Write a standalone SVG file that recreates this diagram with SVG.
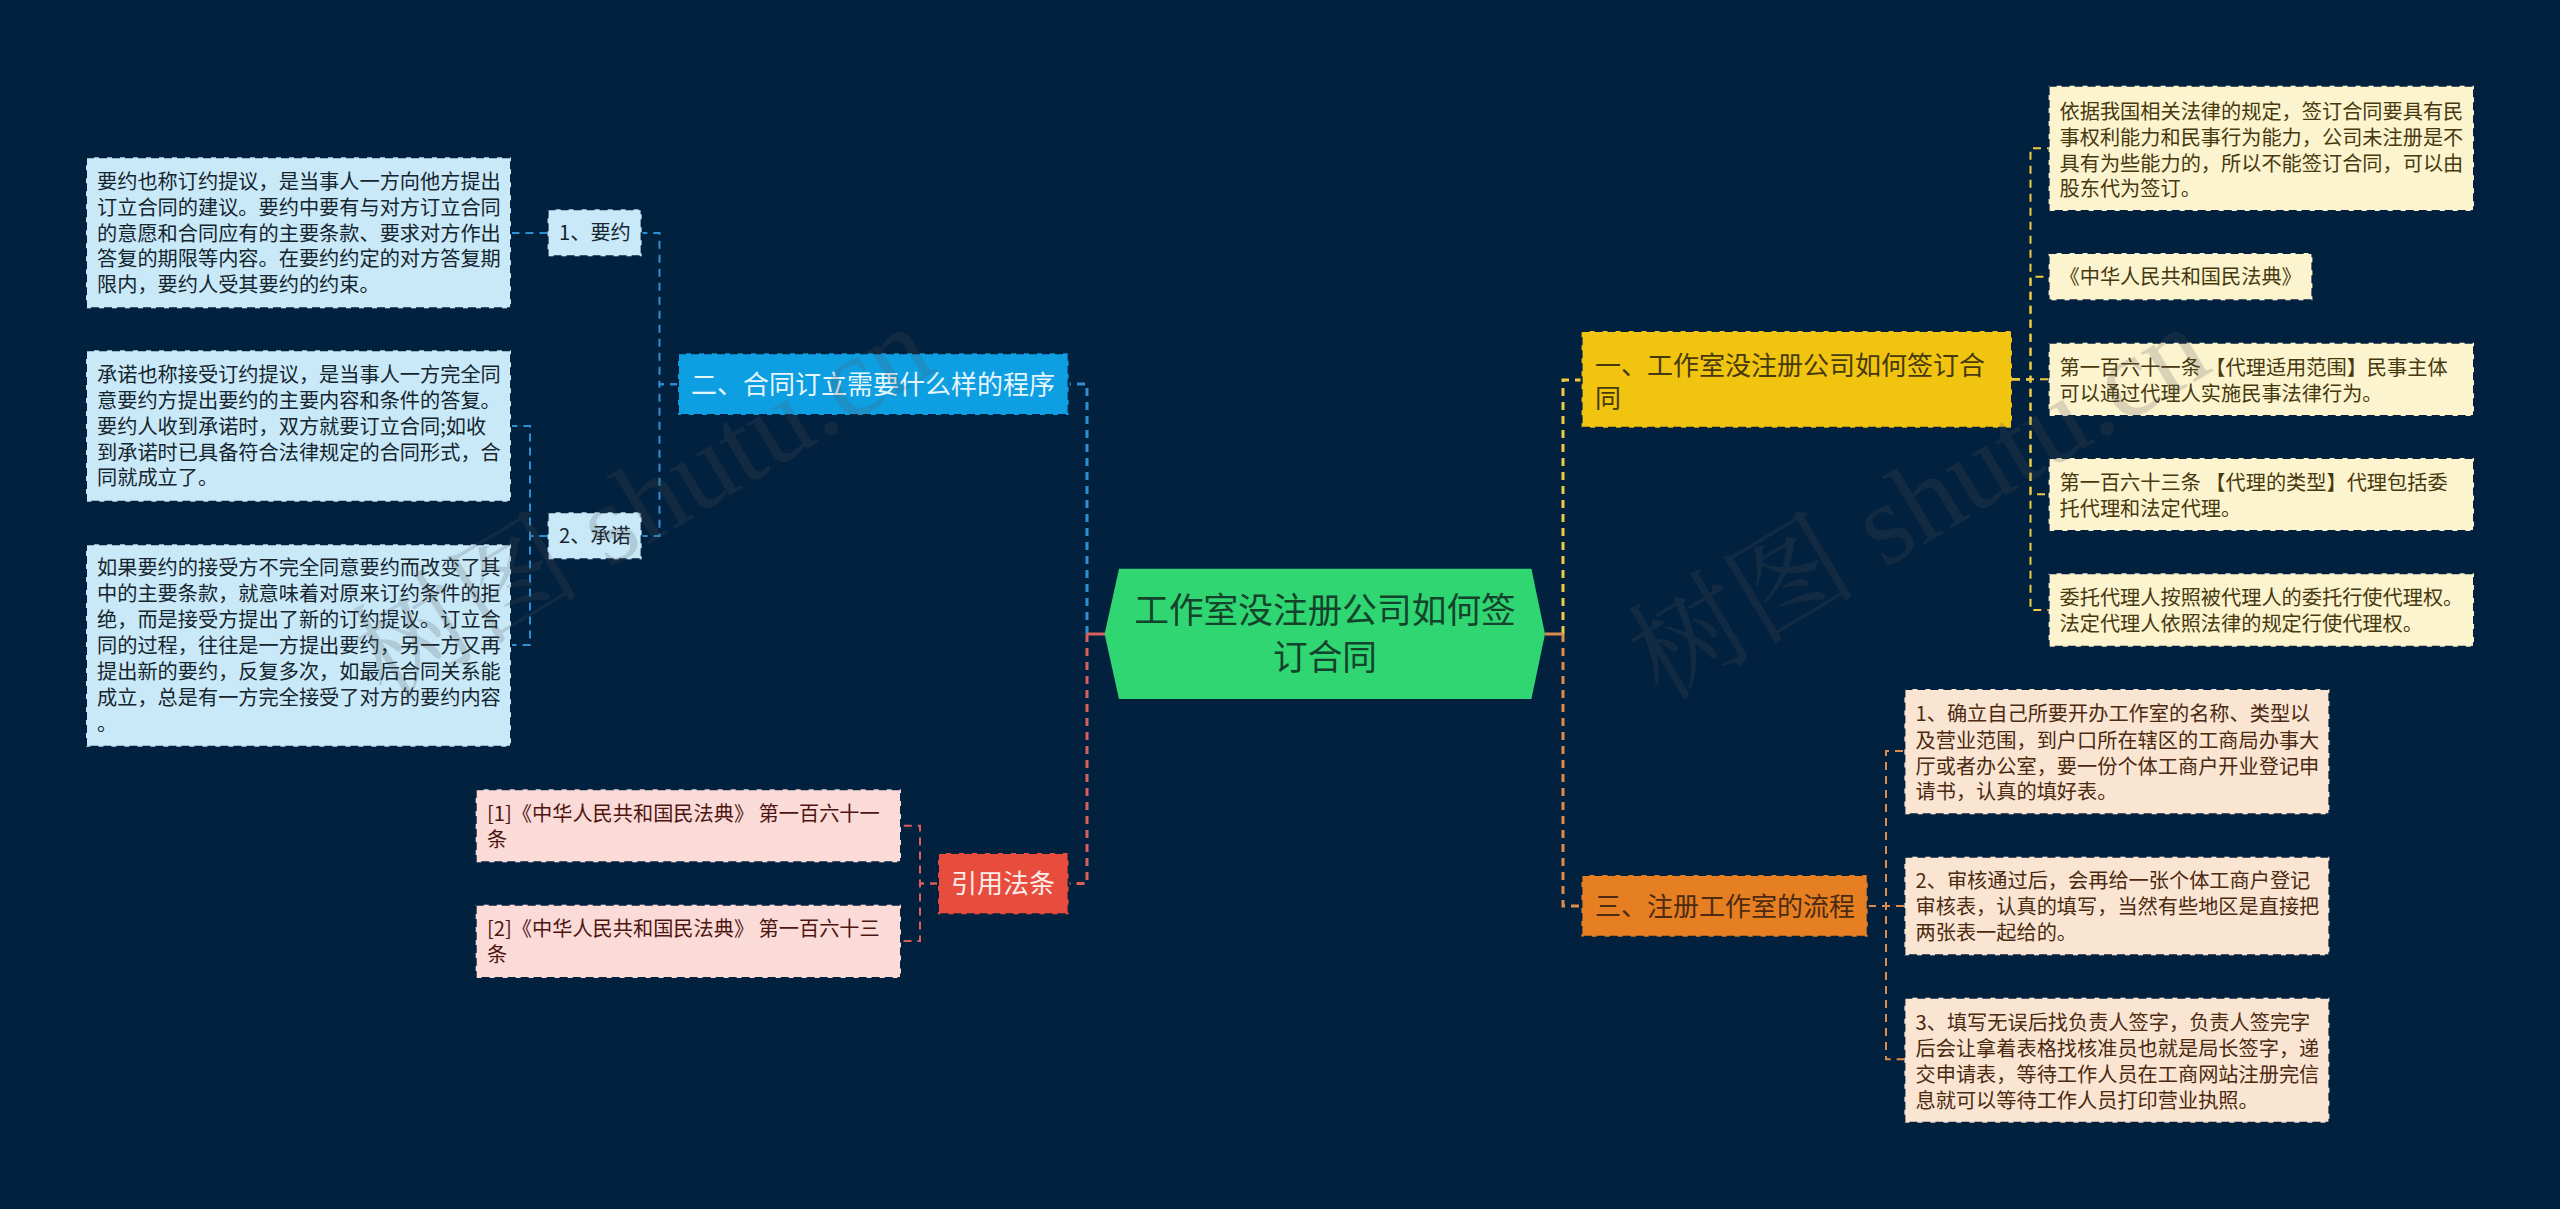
<svg xmlns="http://www.w3.org/2000/svg" width="2560" height="1209" viewBox="0 0 2560 1209">
<style>
text{font-family:"Noto Sans CJK SC","Noto Sans",sans-serif}
.n{stroke:#02213f;stroke-width:2;stroke-dasharray:8 5}
.t20{font-size:20.2px}.t26{font-size:26px}
.c{fill:none;stroke-dasharray:8 6}
.c2{stroke-width:3}.c3{stroke-width:2}
.blue{stroke:#2f8fd3}.red{stroke:#d9605a}.yel{stroke:#edcb45}.org{stroke:#dd8c4c}
.lb{fill:#c9e9f9}.lr{fill:#fadbd8}.ly{fill:#fcf3cf}.lo{fill:#fae5d3}
.tb{fill:#15252e}.tr{fill:#4e1510}.ty{fill:#47390e}.to{fill:#4b2a10}
.wm{font-family:"Liberation Serif","Noto Serif CJK SC","Noto Sans CJK SC",serif;font-size:115px;fill:#555;opacity:.2}
</style>
<rect width="2560" height="1209" fill="#02213f"/>
<g id="connectors">
<path class="c c2 blue" d="M1087 634V384H1069"/>
<path class="c c2 red" d="M1087 634V883.5H1069"/>
<path class="c c2 yel" d="M1563 634V380H1581"/>
<path class="c c2 org" d="M1563 634V906H1581"/>
<path d="M1105 634H1087" fill="none" stroke="#d9605a" stroke-width="3"/>
<path d="M1545 634H1563" fill="none" stroke="#dd8c4c" stroke-width="3"/>
<path class="c c3 blue" d="M678 384.300H659.500V233H641.500"/>
<path class="c c3 blue" d="M678 384.300H659.500V536H641.500"/>
<path class="c c3 blue" d="M547.500 233H511"/>
<path class="c c3 blue" d="M547.500 536H530V426H511"/>
<path class="c c3 blue" d="M547.500 536H530V645H511"/>
<path class="c c3 red" d="M938 883.500H920V825.700H901"/>
<path class="c c3 red" d="M938 883.500H920V941H901"/>
<path class="c c3 yel" d="M2012 379.300H2030.500V148.300H2048.500"/>
<path class="c c3 yel" d="M2012 379.300H2030.500V276.700H2048.500"/>
<path class="c c3 yel" d="M2012 379.300H2048.500"/>
<path class="c c3 yel" d="M2012 379.300H2030.500V494.300H2048.500"/>
<path class="c c3 yel" d="M2012 379.300H2030.500V610H2048.500"/>
<path class="c c3 org" d="M1868 906H1886V751H1904"/>
<path class="c c3 org" d="M1868 906H1904"/>
<path class="c c3 org" d="M1868 906H1886V1059.300H1904"/>
</g>
<g id="root">
<polygon points="1119,568.700 1531.400,568.700 1545,634 1531.400,699 1119,699 1104.600,634" fill="#2fd672"/>
<text x="1325" y="623" font-size="34.700" text-anchor="middle" fill="#14432c">工作室没注册公司如何签</text>
<text x="1325" y="670" font-size="34.700" text-anchor="middle" fill="#14432c">订合同</text>
</g>
<g id="branch-2">
<rect class="n" x="678" y="353.300" width="390.600" height="61.700" fill="#0e9fe3"/>
<text class="t26" x="691" y="393.500" fill="#e6f6fd">二、合同订立需要什么样的程序</text>
</g>
<g id="sub-1">
<rect class="n lb" x="547.600" y="209.300" width="94" height="47"/>
<text class="t20 tb" x="559" y="240">1、要约</text>
</g>
<g id="sub-2">
<rect class="n lb" x="547.600" y="512.300" width="94" height="47"/>
<text class="t20 tb" x="559" y="543">2、承诺</text>
</g>
<g id="leaf-offer">
<rect class="n lb" x="86" y="157.300" width="425" height="151"/>
<text class="t20 tb"><tspan x="97" y="188.700">要约也称订约提议，是当事人一方向他方提出</tspan><tspan x="97" y="214.700">订立合同的建议。要约中要有与对方订立合同</tspan><tspan x="97" y="240.700">的意愿和合同应有的主要条款、要求对方作出</tspan><tspan x="97" y="266.300">答复的期限等内容。在要约约定的对方答复期</tspan><tspan x="97" y="292.300">限内，要约人受其要约的约束。</tspan></text>
</g>
<g id="leaf-accept">
<rect class="n lb" x="86" y="350.300" width="425" height="151.400"/>
<text class="t20 tb"><tspan x="97" y="382">承诺也称接受订约提议，是当事人一方完全同</tspan><tspan x="97" y="408">意要约方提出要约的主要内容和条件的答复。</tspan><tspan x="97" y="433.700">要约人收到承诺时，双方就要订立合同;如收</tspan><tspan x="97" y="459.700">到承诺时已具备符合法律规定的合同形式，合</tspan><tspan x="97" y="485">同就成立了。</tspan></text>
</g>
<g id="leaf-counter">
<rect class="n lb" x="86" y="544.300" width="425" height="202.400"/>
<text class="t20 tb"><tspan x="97" y="575.300">如果要约的接受方不完全同意要约而改变了其</tspan><tspan x="97" y="601.300">中的主要条款，就意味着对原来订约条件的拒</tspan><tspan x="97" y="627.300">绝，而是接受方提出了新的订约提议。订立合</tspan><tspan x="97" y="653">同的过程，往往是一方提出要约，另一方又再</tspan><tspan x="97" y="679">提出新的要约，反复多次，如最后合同关系能</tspan><tspan x="97" y="705">成立，总是有一方完全接受了对方的要约内容</tspan><tspan x="97" y="731">。</tspan></text>
</g>
<g id="branch-law">
<rect class="n" x="938" y="853" width="130.600" height="61.300" fill="#e74c3c"/>
<text class="t26" x="951" y="893" fill="#fdeeec">引用法条</text>
</g>
<g id="law-1">
<rect class="n lr" x="475.700" y="789.300" width="425.300" height="73"/>
<text class="t20 tr"><tspan x="487" y="821.300">[1]《中华人民共和国民法典》 第一百六十一</tspan><tspan x="487" y="847">条</tspan></text>
</g>
<g id="law-2">
<rect class="n lr" x="475.700" y="904.700" width="425.300" height="73.300"/>
<text class="t20 tr"><tspan x="487" y="936">[2]《中华人民共和国民法典》 第一百六十三</tspan><tspan x="487" y="962">条</tspan></text>
</g>
<g id="branch-1">
<rect class="n" x="1581.600" y="331" width="430.400" height="96.700" fill="#f1c40f"/>
<text class="t26" fill="#47390e"><tspan x="1595" y="374.500">一、工作室没注册公司如何签订合</tspan><tspan x="1595" y="407.800">同</tspan></text>
</g>
<g id="leaf-y1">
<rect class="n ly" x="2048.600" y="85.700" width="425.400" height="125.300"/>
<text class="t20 ty"><tspan x="2059.500" y="118.700">依据我国相关法律的规定，签订合同要具有民</tspan><tspan x="2059.500" y="144.700">事权利能力和民事行为能力，公司未注册是不</tspan><tspan x="2059.500" y="170.700">具有为些能力的，所以不能签订合同，可以由</tspan><tspan x="2059.500" y="196.300">股东代为签订。</tspan></text>
</g>
<g id="leaf-y2">
<rect class="n ly" x="2048.600" y="253" width="263.800" height="47.300"/>
<text class="t20 ty" x="2059.500" y="284">《中华人民共和国民法典》</text>
</g>
<g id="leaf-y3">
<rect class="n ly" x="2048.600" y="342.700" width="425.400" height="73.300"/>
<text class="t20 ty"><tspan x="2059.500" y="375.300">第一百六十一条 【代理适用范围】民事主体</tspan><tspan x="2059.500" y="401">可以通过代理人实施民事法律行为。</tspan></text>
</g>
<g id="leaf-y4">
<rect class="n ly" x="2048.600" y="458" width="425.400" height="73"/>
<text class="t20 ty"><tspan x="2059.500" y="490.300">第一百六十三条 【代理的类型】代理包括委</tspan><tspan x="2059.500" y="516.300">托代理和法定代理。</tspan></text>
</g>
<g id="leaf-y5">
<rect class="n ly" x="2048.600" y="573.300" width="425.400" height="73.400"/>
<text class="t20 ty"><tspan x="2059.500" y="605.300">委托代理人按照被代理人的委托行使代理权。</tspan><tspan x="2059.500" y="631.300">法定代理人依照法律的规定行使代理权。</tspan></text>
</g>
<g id="branch-3">
<rect class="n" x="1581.400" y="875" width="286.300" height="61.700" fill="#e67e22"/>
<text class="t26" x="1595" y="915.500" fill="#4b2a10">三、注册工作室的流程</text>
</g>
<g id="leaf-o1">
<rect class="n lo" x="1904.400" y="689" width="425" height="125.300"/>
<text class="t20 to"><tspan x="1915.500" y="721.300">1、确立自己所要开办工作室的名称、类型以</tspan><tspan x="1915.500" y="747.700">及营业范围，到户口所在辖区的工商局办事大</tspan><tspan x="1915.500" y="773.700">厅或者办公室，要一份个体工商户开业登记申</tspan><tspan x="1915.500" y="799.300">请书，认真的填好表。</tspan></text>
</g>
<g id="leaf-o2">
<rect class="n lo" x="1904.400" y="856.700" width="425" height="98.600"/>
<text class="t20 to"><tspan x="1915.500" y="888">2、审核通过后，会再给一张个体工商户登记</tspan><tspan x="1915.500" y="913.700">审核表，认真的填写，当然有些地区是直接把</tspan><tspan x="1915.500" y="940.300">两张表一起给的。</tspan></text>
</g>
<g id="leaf-o3">
<rect class="n lo" x="1904.400" y="997.700" width="425" height="125"/>
<text class="t20 to"><tspan x="1915.500" y="1029.700">3、填写无误后找负责人签字，负责人签完字</tspan><tspan x="1915.500" y="1056">后会让拿着表格找核准员也就是局长签字，递</tspan><tspan x="1915.500" y="1082">交申请表，等待工作人员在工商网站注册完信</tspan><tspan x="1915.500" y="1108">息就可以等待工作人员打印营业执照。</tspan></text>
</g>
<g id="watermark">
<text class="wm" transform="translate(386 702) rotate(-31)">树图 shutu.cn</text>
<text class="wm" transform="translate(1662 702) rotate(-31)">树图 shutu.cn</text>
</g>
</svg>
